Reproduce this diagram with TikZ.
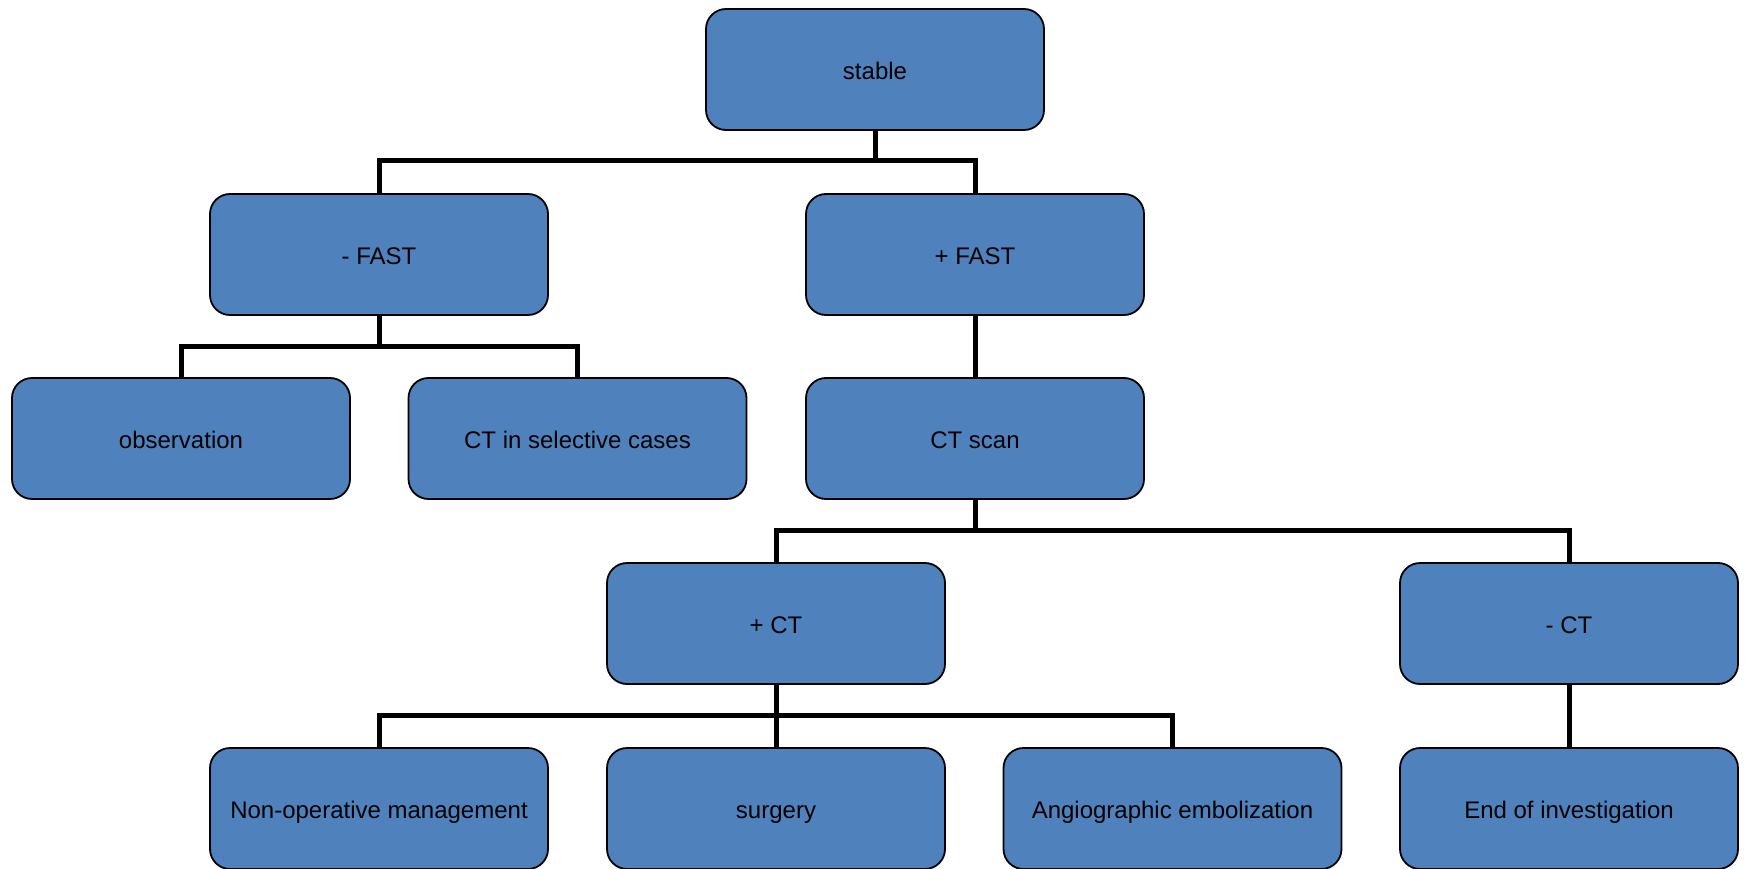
\documentclass[tikz,border=0pt]{standalone}
\usepackage{fontspec}
\setmainfont{Liberation Sans}
\definecolor{boxblue}{HTML}{4F81BD}
\begin{document}
\begin{tikzpicture}[x=1pt,y=-1pt,
  box/.style={draw=black, line width=1.8pt, fill=boxblue, rounded corners=20pt,
    minimum width=338pt, minimum height=121pt, inner sep=0pt, outer sep=0pt,
    text height=21pt, text depth=1pt,
    font=\fontsize{24}{28}\selectfont, text=black},
  conn/.style={draw=black, line width=5pt}]
\useasboundingbox (0,0) rectangle (1748,869);
\node[box] (stable) at (875,69.5) {stable};
\node[box] (nfast) at (379,254.5) {- FAST};
\node[box] (pfast) at (975,254.5) {+ FAST};
\node[box] (obs) at (181,438.5) {observation};
\node[box] (ctsel) at (577.5,438.5) {CT in selective cases};
\node[box] (ctscan) at (975,438.5) {CT scan};
\node[box] (pct) at (776,623.5) {+ CT};
\node[box] (nct) at (1569,623.5) {- CT};
\node[box] (nonop) at (379,808.5) {Non-operative management};
\node[box] (surg) at (776,808.5) {surgery};
\node[box] (angio) at (1172.5,808.5) {Angiographic embolization};
\node[box] (endinv) at (1569,808.5) {End of investigation};
\draw[conn] (stable.south) -- ++(0,31) -| (nfast.north);
\draw[conn] (stable.south) -- ++(0,31) -| (pfast.north);
\draw[conn] (nfast.south) -- ++(0,31) -| (obs.north);
\draw[conn] (nfast.south) -- ++(0,31) -| (ctsel.north);
\draw[conn] (pfast.south) -- (ctscan.north);
\draw[conn] (ctscan.south) -- ++(0,31) -| (pct.north);
\draw[conn] (ctscan.south) -- ++(0,31) -| (nct.north);
\draw[conn] (pct.south) -- ++(0,31) -| (nonop.north);
\draw[conn] (pct.south) -- (surg.north);
\draw[conn] (pct.south) -- ++(0,31) -| (angio.north);
\draw[conn] (nct.south) -- (endinv.north);
\end{tikzpicture}
\end{document}
